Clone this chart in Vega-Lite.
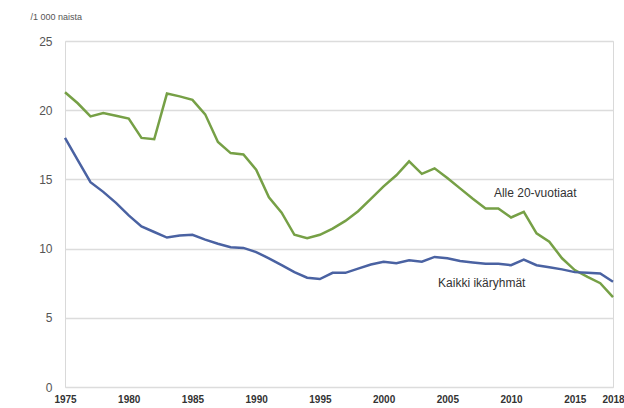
{
  "$schema": "https://vega.github.io/schema/vega-lite/v6.json",
  "width": 548,
  "height": 346,
  "autosize": {"type": "none"},
  "padding": {"left": 65, "top": 41, "right": 11, "bottom": 21},
  "config": {
    "view": {"stroke": "#d9d9d9", "strokeWidth": 1},
    "font": "Liberation Sans"
  },
  "datasets": {
    "series": [
      {"year": 1975, "group": "Alle 20-vuotiaat", "value": 21.3},
      {"year": 1976, "group": "Alle 20-vuotiaat", "value": 20.5},
      {"year": 1977, "group": "Alle 20-vuotiaat", "value": 19.55},
      {"year": 1978, "group": "Alle 20-vuotiaat", "value": 19.8},
      {"year": 1979, "group": "Alle 20-vuotiaat", "value": 19.6},
      {"year": 1980, "group": "Alle 20-vuotiaat", "value": 19.4},
      {"year": 1981, "group": "Alle 20-vuotiaat", "value": 18.0},
      {"year": 1982, "group": "Alle 20-vuotiaat", "value": 17.9},
      {"year": 1983, "group": "Alle 20-vuotiaat", "value": 21.2},
      {"year": 1984, "group": "Alle 20-vuotiaat", "value": 21.0},
      {"year": 1985, "group": "Alle 20-vuotiaat", "value": 20.75},
      {"year": 1986, "group": "Alle 20-vuotiaat", "value": 19.7},
      {"year": 1987, "group": "Alle 20-vuotiaat", "value": 17.7},
      {"year": 1988, "group": "Alle 20-vuotiaat", "value": 16.9},
      {"year": 1989, "group": "Alle 20-vuotiaat", "value": 16.8},
      {"year": 1990, "group": "Alle 20-vuotiaat", "value": 15.7},
      {"year": 1991, "group": "Alle 20-vuotiaat", "value": 13.7},
      {"year": 1992, "group": "Alle 20-vuotiaat", "value": 12.6},
      {"year": 1993, "group": "Alle 20-vuotiaat", "value": 11.0},
      {"year": 1994, "group": "Alle 20-vuotiaat", "value": 10.75},
      {"year": 1995, "group": "Alle 20-vuotiaat", "value": 11.0},
      {"year": 1996, "group": "Alle 20-vuotiaat", "value": 11.45},
      {"year": 1997, "group": "Alle 20-vuotiaat", "value": 12.0},
      {"year": 1998, "group": "Alle 20-vuotiaat", "value": 12.7},
      {"year": 1999, "group": "Alle 20-vuotiaat", "value": 13.6},
      {"year": 2000, "group": "Alle 20-vuotiaat", "value": 14.5},
      {"year": 2001, "group": "Alle 20-vuotiaat", "value": 15.3},
      {"year": 2002, "group": "Alle 20-vuotiaat", "value": 16.3},
      {"year": 2003, "group": "Alle 20-vuotiaat", "value": 15.4},
      {"year": 2004, "group": "Alle 20-vuotiaat", "value": 15.8},
      {"year": 2005, "group": "Alle 20-vuotiaat", "value": 15.1},
      {"year": 2006, "group": "Alle 20-vuotiaat", "value": 14.35},
      {"year": 2007, "group": "Alle 20-vuotiaat", "value": 13.6},
      {"year": 2008, "group": "Alle 20-vuotiaat", "value": 12.9},
      {"year": 2009, "group": "Alle 20-vuotiaat", "value": 12.9},
      {"year": 2010, "group": "Alle 20-vuotiaat", "value": 12.25},
      {"year": 2011, "group": "Alle 20-vuotiaat", "value": 12.65},
      {"year": 2012, "group": "Alle 20-vuotiaat", "value": 11.1},
      {"year": 2013, "group": "Alle 20-vuotiaat", "value": 10.5},
      {"year": 2014, "group": "Alle 20-vuotiaat", "value": 9.3},
      {"year": 2015, "group": "Alle 20-vuotiaat", "value": 8.45},
      {"year": 2016, "group": "Alle 20-vuotiaat", "value": 7.95},
      {"year": 2017, "group": "Alle 20-vuotiaat", "value": 7.5},
      {"year": 2018, "group": "Alle 20-vuotiaat", "value": 6.5},
      {"year": 1975, "group": "Kaikki ikäryhmät", "value": 18.0},
      {"year": 1976, "group": "Kaikki ikäryhmät", "value": 16.4},
      {"year": 1977, "group": "Kaikki ikäryhmät", "value": 14.8},
      {"year": 1978, "group": "Kaikki ikäryhmät", "value": 14.1},
      {"year": 1979, "group": "Kaikki ikäryhmät", "value": 13.3},
      {"year": 1980, "group": "Kaikki ikäryhmät", "value": 12.4},
      {"year": 1981, "group": "Kaikki ikäryhmät", "value": 11.6},
      {"year": 1982, "group": "Kaikki ikäryhmät", "value": 11.2},
      {"year": 1983, "group": "Kaikki ikäryhmät", "value": 10.8},
      {"year": 1984, "group": "Kaikki ikäryhmät", "value": 10.95},
      {"year": 1985, "group": "Kaikki ikäryhmät", "value": 11.0},
      {"year": 1986, "group": "Kaikki ikäryhmät", "value": 10.65},
      {"year": 1987, "group": "Kaikki ikäryhmät", "value": 10.35},
      {"year": 1988, "group": "Kaikki ikäryhmät", "value": 10.1},
      {"year": 1989, "group": "Kaikki ikäryhmät", "value": 10.05},
      {"year": 1990, "group": "Kaikki ikäryhmät", "value": 9.75},
      {"year": 1991, "group": "Kaikki ikäryhmät", "value": 9.3},
      {"year": 1992, "group": "Kaikki ikäryhmät", "value": 8.8},
      {"year": 1993, "group": "Kaikki ikäryhmät", "value": 8.3},
      {"year": 1994, "group": "Kaikki ikäryhmät", "value": 7.9},
      {"year": 1995, "group": "Kaikki ikäryhmät", "value": 7.8},
      {"year": 1996, "group": "Kaikki ikäryhmät", "value": 8.25},
      {"year": 1997, "group": "Kaikki ikäryhmät", "value": 8.25},
      {"year": 1998, "group": "Kaikki ikäryhmät", "value": 8.55},
      {"year": 1999, "group": "Kaikki ikäryhmät", "value": 8.85},
      {"year": 2000, "group": "Kaikki ikäryhmät", "value": 9.05},
      {"year": 2001, "group": "Kaikki ikäryhmät", "value": 8.95},
      {"year": 2002, "group": "Kaikki ikäryhmät", "value": 9.15},
      {"year": 2003, "group": "Kaikki ikäryhmät", "value": 9.05},
      {"year": 2004, "group": "Kaikki ikäryhmät", "value": 9.4},
      {"year": 2005, "group": "Kaikki ikäryhmät", "value": 9.3},
      {"year": 2006, "group": "Kaikki ikäryhmät", "value": 9.1},
      {"year": 2007, "group": "Kaikki ikäryhmät", "value": 9.0},
      {"year": 2008, "group": "Kaikki ikäryhmät", "value": 8.9},
      {"year": 2009, "group": "Kaikki ikäryhmät", "value": 8.9},
      {"year": 2010, "group": "Kaikki ikäryhmät", "value": 8.8},
      {"year": 2011, "group": "Kaikki ikäryhmät", "value": 9.2},
      {"year": 2012, "group": "Kaikki ikäryhmät", "value": 8.8},
      {"year": 2013, "group": "Kaikki ikäryhmät", "value": 8.65},
      {"year": 2014, "group": "Kaikki ikäryhmät", "value": 8.5},
      {"year": 2015, "group": "Kaikki ikäryhmät", "value": 8.3},
      {"year": 2016, "group": "Kaikki ikäryhmät", "value": 8.25},
      {"year": 2017, "group": "Kaikki ikäryhmät", "value": 8.2},
      {"year": 2018, "group": "Kaikki ikäryhmät", "value": 7.6}
    ],
    "labels": [
      {"year": 2011.9, "value": 14.0, "text": "Alle 20-vuotiaat"},
      {"year": 2007.7, "value": 7.5, "text": "Kaikki ikäryhmät"}
    ]
  },
  "layer": [
    {
      "data": {"name": "series"},
      "mark": {"type": "line", "strokeWidth": 2.5, "clip": false},
      "encoding": {
        "x": {
          "field": "year",
          "type": "quantitative",
          "scale": {"domain": [1975, 2018], "nice": false, "zero": false},
          "axis": {
            "title": null,
            "values": [1975, 1980, 1985, 1990, 1995, 2000, 2005, 2010, 2015, 2018],
            "format": "d",
            "grid": false,
            "domain": false,
            "ticks": false,
            "labelFontSize": 10,
            "labelFontWeight": "bold",
            "labelColor": "#333333",
            "labelPadding": 7,
            "labelFlush": false,
            "labelOverlap": false
          }
        },
        "y": {
          "field": "value",
          "type": "quantitative",
          "scale": {"domain": [0, 25], "nice": false},
          "axis": {
            "title": "/1 000 naista",
            "titleAngle": 0,
            "titleAlign": "left",
            "titleBaseline": "middle",
            "titleX": -35,
            "titleY": -25,
            "titleFontSize": 9,
            "titleFontWeight": "normal",
            "titleColor": "#555555",
            "values": [0, 5, 10, 15, 20, 25],
            "grid": true,
            "gridColor": "#dcdcdc",
            "gridWidth": 1.5,
            "domain": false,
            "ticks": false,
            "labelFontSize": 12,
            "labelColor": "#555555",
            "labelPadding": 13
          }
        },
        "color": {
          "field": "group",
          "type": "nominal",
          "scale": {"domain": ["Alle 20-vuotiaat", "Kaikki ikäryhmät"], "range": ["#76a046", "#4a62a2"]},
          "legend": null
        }
      }
    },
    {
      "data": {"name": "labels"},
      "mark": {"type": "text", "fontSize": 12, "color": "#333333", "align": "center", "baseline": "middle"},
      "encoding": {
        "x": {"field": "year", "type": "quantitative"},
        "y": {"field": "value", "type": "quantitative"},
        "text": {"field": "text", "type": "nominal"}
      }
    }
  ]
}
